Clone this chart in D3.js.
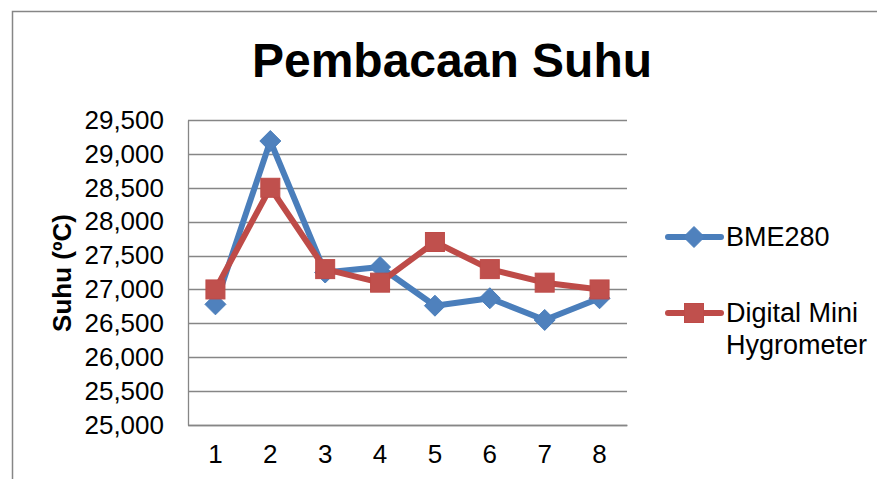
<!DOCTYPE html>
<html><head><meta charset="utf-8">
<script src="https://cdn.jsdelivr.net/npm/d3@7"></script>
<style>body{margin:0;background:#fff}svg{display:block}text{font-family:"Liberation Sans",Arial,sans-serif}</style>
</head><body>
<svg id="c" width="877" height="479"></svg>
<script>
const categories = ["1","2","3","4","5","6","7","8"];
const bme280 = [26.78, 29.19, 27.25, 27.33, 26.76, 26.87, 26.55, 26.87];
const hygrometer = [27.0, 28.5, 27.3, 27.1, 27.7, 27.3, 27.1, 27.0];
const yTicks = [25.0, 25.5, 26.0, 26.5, 27.0, 27.5, 28.0, 28.5, 29.0, 29.5];
const seriesNames = ["BME280", "Digital Mini Hygrometer"];

const svg = d3.select("#c");
const L = 188, R = 627, T = 120, B = 425;
const x = d3.scaleBand().domain(categories).range([L, R]);
const y = d3.scaleLinear().domain([25.0, 29.5]).range([B, T]);
const loc = d3.formatLocale({decimal: ",", thousands: ".", grouping: [3], currency: ["", ""]});
const fmt = loc.format(".3f");

// frame
svg.append("rect").attr("x", 12.5).attr("y", 11.5).attr("width", 900).attr("height", 500)
  .attr("fill", "none").attr("stroke", "#868686").attr("stroke-width", 1.5);

// gridlines
svg.append("g").selectAll("line").data(yTicks).join("line")
  .attr("x1", L).attr("x2", R).attr("y1", d => Math.round(y(d)) + 0.5).attr("y2", d => Math.round(y(d)) + 0.5)
  .attr("stroke", "#868686").attr("stroke-width", 1.3);

// y axis
const ya = svg.append("g").attr("transform", `translate(${L},0)`)
  .call(d3.axisLeft(y).tickValues(yTicks).tickFormat(fmt).tickSize(0).tickPadding(24));
ya.select(".domain").attr("stroke", "#868686").attr("stroke-width", 1.3);
ya.selectAll("text").attr("font-size", 26).attr("fill", "#000").style("font-family", "Liberation Sans, Arial, sans-serif");

// x axis
const xa = svg.append("g").attr("transform", `translate(0,${B})`)
  .call(d3.axisBottom(x).tickSize(0).tickPadding(20));
xa.select(".domain").attr("stroke", "#868686").attr("stroke-width", 1.3);
xa.selectAll("text").attr("font-size", 26).attr("fill", "#000").style("font-family", "Liberation Sans, Arial, sans-serif");

// title
svg.append("text").attr("x", 452).attr("y", 77).attr("text-anchor", "middle")
  .attr("font-size", 48).attr("font-weight", "bold").text("Pembacaan Suhu");

// y title
svg.append("text").attr("transform", "translate(71,273) rotate(-90)").attr("text-anchor", "middle")
  .attr("font-size", 26).attr("font-weight", "bold").text("Suhu (ºC)");

const colors = [{line: "#4A7EBB", fill: "#4F81BD"}, {line: "#BE4B48", fill: "#C0504D"}];
const line = d3.line().x((d, i) => x(categories[i]) + x.bandwidth() / 2).y(d => y(d));

function drawMarker(g, type, cx, cy, c) {
  if (type === 0) {
    const s = 10.5;
    g.append("path").attr("d", `M${cx},${cy - s}L${cx + s},${cy}L${cx},${cy + s}L${cx - s},${cy}Z`)
      .attr("fill", c.fill).attr("stroke", c.line).attr("stroke-width", 1);
  } else {
    const s = 9.5;
    g.append("rect").attr("x", cx - s).attr("y", cy - s).attr("width", 2 * s).attr("height", 2 * s)
      .attr("fill", c.fill).attr("stroke", c.line).attr("stroke-width", 1);
  }
}

[bme280, hygrometer].forEach((data, k) => {
  const g = svg.append("g");
  g.append("path").datum(data).attr("d", line).attr("fill", "none")
    .attr("stroke", colors[k].line).attr("stroke-width", 6).attr("stroke-linejoin", "round");
  data.forEach((d, i) => drawMarker(g, k, x(categories[i]) + x.bandwidth() / 2, y(d), colors[k]));
});

// legend
const legY = [237, 313];
seriesNames.forEach((name, k) => {
  const g = svg.append("g");
  g.append("line").attr("x1", 668).attr("x2", 721).attr("y1", legY[k]).attr("y2", legY[k])
    .attr("stroke", colors[k].line).attr("stroke-width", 6).attr("stroke-linecap", "round");
  drawMarker(g, k, 694, legY[k], colors[k]);
  const t = g.append("text").attr("x", 726).attr("y", legY[k] + 9).attr("font-size", 27).attr("fill", "#000");
  if (k === 0) t.text(name);
  else {
    t.append("tspan").attr("x", 726).text("Digital Mini");
    t.append("tspan").attr("x", 726).attr("dy", 32).text("Hygrometer");
  }
});
</script>
</body></html>
